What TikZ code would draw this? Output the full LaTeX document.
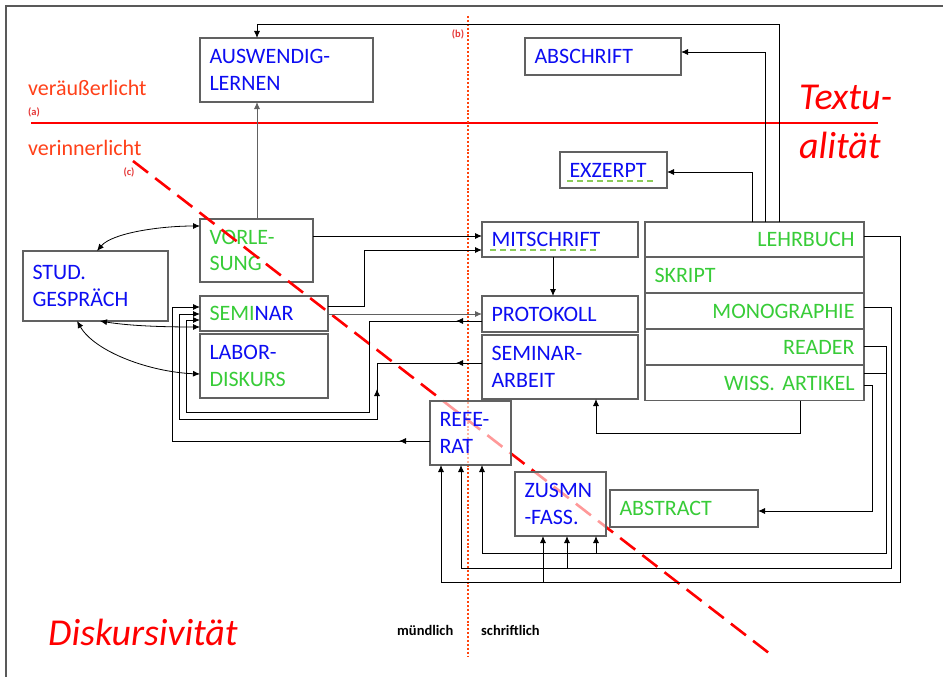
\documentclass[tikz,border=0pt]{standalone}
\usepackage{fontspec}
\setmainfont{Carlito}
\usetikzlibrary{positioning,arrows.meta,decorations.markings}

\definecolor{txtblue}{rgb}{0.05,0.05,0.95}
\definecolor{txtgreen}{rgb}{0.22,0.8,0.22}
\definecolor{orangered}{rgb}{1,0.25,0.1}
\definecolor{dotred}{rgb}{1,0.27,0.05}
\definecolor{labred}{rgb}{0.9,0.22,0.22}
\definecolor{boxgray}{rgb}{0.38,0.38,0.38}
\definecolor{framegray}{rgb}{0.35,0.35,0.35}
\definecolor{spellgreen}{rgb}{0.55,0.8,0.35}

\newcommand{\kastenfont}{\fontsize{22}{26.5}\selectfont}

\tikzset{
  box/.style={draw=boxgray, line width=1.1pt, fill=white, anchor=north west,
    inner xsep=9.5pt, inner ysep=0pt, outer sep=0pt, align=left,
    font=\kastenfont, text=txtblue},
  arr/.style={-{Latex[length=7pt,width=6pt]}, line width=0.9pt},
  dblarr/.style={{Latex[length=7pt,width=6pt]}-{Latex[length=7pt,width=6pt]}, line width=0.8pt},
  midarr/.style={postaction={decorate}, decoration={markings,
    mark=at position #1 with {\arrow{Latex[length=7pt,width=6pt]}}}},
  lab/.style={text=labred, font=\fontsize{10.5}{12}\selectfont\bfseries, inner sep=0pt},
  seite/.style={anchor=base west, inner sep=0pt, font=\fontsize{14.5}{17}\selectfont\bfseries},
}

\begin{document}
\begin{tikzpicture}[x=1pt, y=-1pt]
  \useasboundingbox (0,0) rectangle (943,677);
  \draw[framegray, line width=1.5pt] (6,677) -- (6,6) -- (943,6);

  % Achsen
  \draw[red, line width=2.2pt] (31,123) -- (878,123);
  \draw[dotred, line width=2.4pt, dash pattern=on 2pt off 1.9pt] (468,16) -- (468,657);

  \node[anchor=base west, inner sep=0pt, text=orangered, font=\kastenfont] (aussen) at (28,95.5) {veräußerlicht};
  \node[anchor=base west, inner sep=0pt, text=orangered, font=\kastenfont] (innen) at (28,155) {verinnerlicht};
  \node[lab] (la) at (34,112.5) {(a)};
  \node[lab] (lb) at (458,34) {(b)};
  \node[lab] (lc) at (129,172) {(c)};
  \node[anchor=base west, inner sep=0pt, text=red, font=\itshape\fontsize{38}{46}\selectfont] (text1) at (799,110) {Textu-};
  \node[anchor=base west, inner sep=0pt, text=red, font=\itshape\fontsize{38}{46}\selectfont] (text2) at (799,158) {alität};
  \node[anchor=base west, inner sep=0pt, text=red, font=\itshape\fontsize{38}{46}\selectfont] (disk) at (48,645) {Diskursivität};
  \node[seite] (muend) at (397,635) {mündlich};
  \node[seite] (schrift) at (481,635) {schriftlich};

  % Kaesten
  \node[box, text width=154pt, minimum height=64pt] (ausw) at (200,38) {AUSWENDIG-\\LERNEN};
  \node[box, text width=137pt, minimum height=37pt] (absch) at (525,38) {ABSCHRIFT};
  \node[box, text width=88pt, minimum height=36pt] (exz) at (560,152) {EXZERPT};
  \node[box, text width=126pt, minimum height=70pt] (stud) at (23,251) {STUD.\\GESPRÄCH};
  \node[box, text width=94pt, minimum height=63pt, text=txtgreen] (vorl) at (200,219) {VORLE-\\SUNG};
  \node[box, text width=109pt, minimum height=35pt] (sem) at (200,296) {{\color{txtgreen}SEMI}NAR};
  \node[box, text width=109pt, minimum height=64pt] (labor) at (200,334) {LABOR-\\{\color{txtgreen}DISKURS}};
  \node[box, text width=137pt, minimum height=35pt] (mit) at (482,222) {MITSCHRIFT};
  \node[box, text width=137pt, minimum height=36pt] (prot) at (482,296) {PROTOKOLL};
  \node[box, text width=137pt, minimum height=64pt] (sarb) at (482,335) {SEMINAR-\\ARBEIT};
  \node[box, text width=129pt, minimum height=37pt, text=txtgreen] (abs) at (610,490) {ABSTRACT};

  \node[box, text width=200pt, minimum height=35pt, align=right, text=txtgreen] (lehr) at (645,222) {LEHRBUCH};
  \node[box, text width=200pt, minimum height=35pt, text=txtgreen, below=0.9pt of lehr] (skr) {SKRIPT};
  \node[box, text width=200pt, minimum height=35pt, align=right, text=txtgreen, below=0.9pt of skr] (mono) {MONOGRAPHIE};
  \node[box, text width=200pt, minimum height=35pt, align=right, text=txtgreen, below=0.9pt of mono] (read) {READER};
  \node[box, text width=200pt, minimum height=35pt, align=right, text=txtgreen, below=0.9pt of read] (wiss) {WISS.\ ARTIKEL};

  \draw[spellgreen, line width=1.2pt, dash pattern=on 6pt off 4pt] (490,250) -- (596,250);
  \draw[spellgreen, line width=1.2pt, dash pattern=on 6pt off 4pt] (567,181) -- (653,181);

  % Diagonale
  \draw[red, line width=2.6pt, dash pattern=on 19pt off 9pt] (133,161) -- (774,657);

  \node[box, text width=62pt, minimum height=64pt, fill opacity=0.6, text opacity=1] (ref) at (430,401) {REFE-\\RAT};
  \node[box, text width=72pt, minimum height=64pt, fill opacity=0.6, text opacity=1] (zus) at (515,472) {ZUSMN\\-FASS.};

  % Verbindungen oben
  \draw[arr] (lehr.north -| 779,0) -- (779,24) -| (ausw.north -| 257,0);
  \draw[arr] (lehr.north -| 765,0) |- (absch.east |- 0,52);
  \draw[arr] (lehr.north -| 752,0) |- (exz.east |- 0,172);
  \draw[arr, boxgray] (vorl.north -| 257,0) -- (ausw.south -| 257,0);

  % Mitschrift, Protokoll
  \draw[arr] (vorl.east |- 0,236) -- (mit.west |- 0,236);
  \draw[arr] (sem.east |- 0,306) -| (364,250) -- (mit.west |- 0,250);
  \draw[arr, boxgray] (sem.east |- 0,314) -- (prot.west |- 0,314);
  \draw[arr] (mit.south -| 553,0) -- (prot.north -| 553,0);

  % zurueck zum Seminar
  \draw[arr, midarr=26pt] (prot.west |- 0,321) -| (369,412) -| (186,320) -- (sem.west |- 0,320);
  \draw[arr, postaction={decorate}, decoration={markings,
      mark=at position 26pt with {\arrow{Latex[length=7pt,width=6pt]}},
      mark=at position 131pt with {\arrowreversed{Latex[length=7pt,width=6pt]}}}]
    (sarb.west |- 0,363) -| (377,419) -| (179,314) -- (sem.west |- 0,314);
  \draw[arr, midarr=31pt] (ref.west |- 0,441) -| (172,307) -- (sem.west |- 0,307);

  % Gespraech
  \draw[dblarr] (stud.north -| 97,0) .. controls (112,233) and (160,226) .. (vorl.west |- 0,226);
  \draw[dblarr] (stud.south -| 100,0) .. controls (130,326) and (165,327) .. (sem.west |- 0,327);
  \draw[dblarr] (stud.south -| 77,0) .. controls (95,352) and (150,372) .. (labor.west |- 0,374);

  % Literatur nach unten
  \coordinate (jl) at (543,582);
  \coordinate (jm) at (567,568);
  \coordinate (jr) at (596,553);
  \coordinate (jw) at (886,373);
  \draw[arr] (wiss.south -| 800,0) |- (596,433) -- (sarb.south -| 596,0);
  \draw[arr] (lehr.east |- 0,236) -| (900,582) -| (ref.south -| 441,0);
  \draw[arr] (mono.east |- 0,307) -| (891,568) -| (ref.south -| 461,0);
  \draw[arr] (read.east |- 0,346) -| (886,553) -| (ref.south -| 482,0);
  \draw[line width=0.9pt] (wiss.east |- jw) -- (jw);
  \draw[arr] (wiss.east |- 0,385) -| (872,511) -- (abs.east |- 0,511);
  \draw[arr] (jl) -- (zus.south -| jl);
  \draw[arr] (jm) -- (zus.south -| jm);
  \draw[arr] (jr) -- (zus.south -| jr);
\end{tikzpicture}
\end{document}
